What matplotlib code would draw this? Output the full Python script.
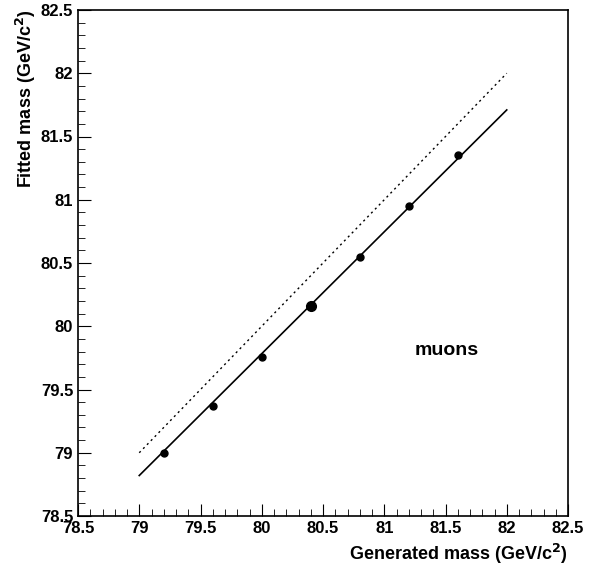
import matplotlib
matplotlib.use("Agg")
import matplotlib.pyplot as plt
from matplotlib.ticker import MultipleLocator

gen = [79.2, 79.6, 80.0, 80.4, 80.8, 81.2, 81.6]
fit = [79.00, 79.37, 79.76, 80.16, 80.55, 80.95, 81.35]
line_x = [79.0, 82.0]
fit_line_y = [78.82, 81.71]
ident_y = [79.0, 82.0]
ticks = [78.5, 79, 79.5, 80, 80.5, 81, 81.5, 82, 82.5]
tick_labels = ['78.5', '79', '79.5', '80', '80.5', '81', '81.5', '82', '82.5']

plt.rcParams['font.family'] = ['Liberation Sans', 'DejaVu Sans']
plt.rcParams['font.weight'] = 'bold'
fig = plt.figure(figsize=(5.97, 5.71), dpi=100)
ax = fig.add_axes([78/597, 1-516/571, (568-78)/597, (516-10)/571])
ax.plot(line_x, fit_line_y, color='black', lw=1.2)
ax.plot(line_x, ident_y, color='black', lw=1, linestyle=(0, (1.5, 2.5)))
ax.plot(gen, fit, 'o', color='black', ms=5)
ax.plot([80.4], [80.16], 'o', color='black', ms=7)
ax.set_xlim(78.5, 82.5)
ax.set_ylim(78.5, 82.5)
ax.xaxis.set_minor_locator(MultipleLocator(0.1))
ax.yaxis.set_minor_locator(MultipleLocator(0.1))
ax.tick_params(which='both', direction='in', top=False, right=False, labelsize=12)
ax.tick_params(which='major', length=9)
ax.tick_params(which='minor', length=5)
ax.set_xticks(ticks)
ax.set_xticklabels(tick_labels)
ax.set_yticks(ticks)
ax.set_yticklabels(tick_labels)
for s in ax.spines.values():
    s.set_linewidth(1.2)
ax.set_xlabel('Generated mass (GeV/c$^{\\mathbf{2}}$)', fontsize=13, fontweight='bold', loc='right')
ax.set_ylabel('Fitted mass (GeV/c$^{\\mathbf{2}}$)', fontsize=13, fontweight='bold', loc='top', labelpad=2)
ax.text(81.25, 79.77, 'muons', fontsize=14, fontweight='bold')
fig.savefig('out.png', dpi=100)
